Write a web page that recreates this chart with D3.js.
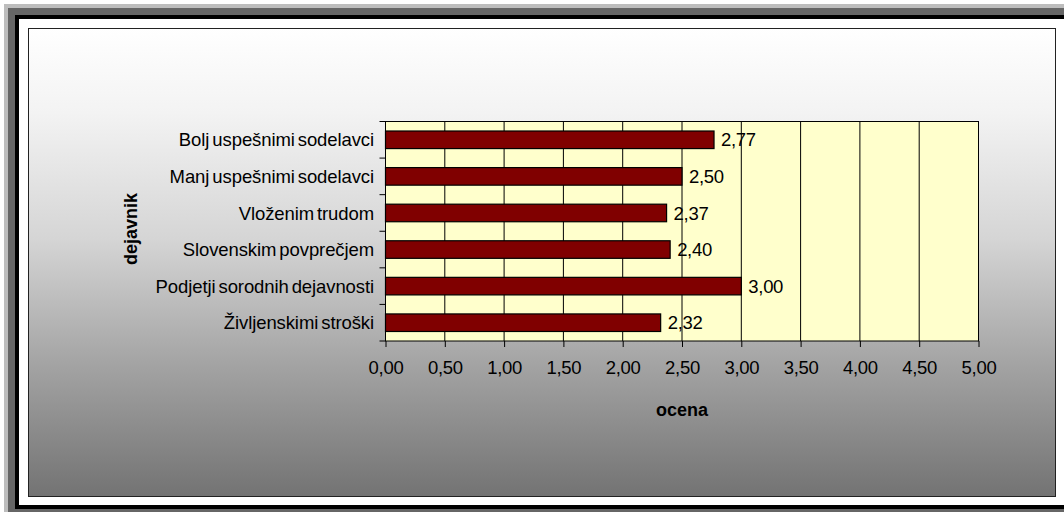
<!DOCTYPE html>
<html>
<head>
<meta charset="utf-8">
<script src="https://cdn.jsdelivr.net/npm/d3@7"></script>
<style>
  html, body { margin: 0; padding: 0; background: #fff; }
  svg { display: block; font-family: "Liberation Sans", Arial, sans-serif; }
</style>
</head>
<body>
<svg id="chart" width="1064" height="512"></svg>
<script>
// Factors (top to bottom) and their mean scores
const categories = [
  "Bolj uspešnimi sodelavci",
  "Manj uspešnimi sodelavci",
  "Vloženim trudom",
  "Slovenskim povprečjem",
  "Podjetji sorodnih dejavnosti",
  "Življenskimi stroški"
];
const scores = [2.77, 2.50, 2.37, 2.40, 3.00, 2.32];
const xTicks = [0, 0.5, 1, 1.5, 2, 2.5, 3, 3.5, 4, 4.5, 5];
const xTitle = "ocena";
const yTitle = "dejavnik";

const fmt = v => v.toFixed(2).replace(".", ",");
const labelFont = 18.5;

const svg = d3.select("#chart");

// Framed border around the page
svg.append("rect").attr("x", 4).attr("y", 4).attr("width", 1100).attr("height", 520).attr("fill", "#bdbdbd");
svg.append("rect").attr("x", 8).attr("y", 8).attr("width", 1100).attr("height", 520).attr("fill", "#666666");
svg.append("rect").attr("x", 15).attr("y", 15).attr("width", 1100).attr("height", 494).attr("fill", "#000");
svg.append("rect").attr("x", 19).attr("y", 19).attr("width", 1100).attr("height", 486).attr("fill", "#fff");

// Chart area with vertical grey gradient
const defs = svg.append("defs");
const grad = defs.append("linearGradient").attr("id", "bgGrad")
  .attr("x1", 0).attr("y1", 0).attr("x2", 0).attr("y2", 1);
[[0, "#ffffff"], [0.18, "#f3f3f3"], [0.45, "#d5d5d5"], [0.72, "#a3a3a3"], [1, "#737373"]]
  .forEach(([o, c]) => grad.append("stop").attr("offset", o).attr("stop-color", c));

svg.append("rect")
  .attr("x", 28.5).attr("y", 28.5).attr("width", 1027).attr("height", 468)
  .attr("fill", "url(#bgGrad)").attr("stroke", "#222").attr("stroke-width", 1);

// Plot area
const plot = { left: 385.5, right: 978.5, top: 121.5, bottom: 341 };

const x = d3.scaleLinear().domain([0, 5]).range([plot.left, plot.right]);
const y = d3.scaleBand().domain(categories).range([plot.top, plot.bottom])
  .paddingInner(0.52).paddingOuter(0.26);
const yBands = d3.scaleBand().domain(categories).range([plot.top, plot.bottom]).padding(0);

svg.append("rect")
  .attr("x", plot.left).attr("y", plot.top)
  .attr("width", plot.right - plot.left).attr("height", plot.bottom - plot.top)
  .attr("fill", "#ffffcc");

// Vertical gridlines
svg.append("g").selectAll("line")
  .data(xTicks.filter(t => t > 0 && t < 5))
  .join("line")
  .attr("x1", d => x(d)).attr("x2", d => x(d))
  .attr("y1", plot.top).attr("y2", plot.bottom)
  .attr("stroke", "#000").attr("stroke-width", 1);

svg.append("rect")
  .attr("x", plot.left).attr("y", plot.top)
  .attr("width", plot.right - plot.left).attr("height", plot.bottom - plot.top)
  .attr("fill", "none").attr("stroke", "#000").attr("stroke-width", 1);

// Bars
svg.append("g").selectAll("rect")
  .data(categories)
  .join("rect")
  .attr("x", x(0))
  .attr("y", d => y(d))
  .attr("width", (d, i) => x(scores[i]) - x(0))
  .attr("height", y.bandwidth())
  .attr("fill", "#800000")
  .attr("stroke", "#000").attr("stroke-width", 1.2);

// Value labels
svg.append("g").selectAll("text")
  .data(categories)
  .join("text")
  .attr("x", (d, i) => x(scores[i]) + 7)
  .attr("y", d => y(d) + y.bandwidth() / 2)
  .attr("dy", "0.36em")
  .attr("font-size", labelFont)
  .attr("letter-spacing", -0.3)
  .attr("fill", "#000")
  .text((d, i) => fmt(scores[i]));

// X axis
const xAxis = d3.axisBottom(x).tickValues(xTicks).tickFormat(fmt).tickSize(6).tickPadding(14);
const gx = svg.append("g").attr("transform", `translate(0,${plot.bottom})`).call(xAxis);
gx.select(".domain").remove();
gx.selectAll(".tick line").attr("stroke", "#000");
gx.selectAll(".tick text")
  .attr("font-size", labelFont)
  .attr("letter-spacing", -0.3)
  .attr("font-family", "Liberation Sans, Arial, sans-serif")
  .attr("fill", "#000");

// Y axis: ticks on band boundaries, labels centred on bands
const boundaries = categories.map(c => yBands(c)).concat([plot.bottom]);
svg.append("g").selectAll("line")
  .data(boundaries)
  .join("line")
  .attr("x1", plot.left - 6).attr("x2", plot.left)
  .attr("y1", d => d).attr("y2", d => d)
  .attr("stroke", "#000");

svg.append("g").selectAll("text")
  .data(categories)
  .join("text")
  .attr("x", 374)
  .attr("y", d => y(d) + y.bandwidth() / 2)
  .attr("dy", "0.36em")
  .attr("text-anchor", "end")
  .attr("font-size", labelFont)
  .attr("letter-spacing", -0.1)
  .attr("word-spacing", -2)
  .attr("fill", "#000")
  .text(d => d);

// Axis titles
svg.append("text")
  .attr("x", (plot.left + plot.right) / 2)
  .attr("y", 416)
  .attr("text-anchor", "middle")
  .attr("font-size", 18).attr("font-weight", "bold")
  .text(xTitle);

svg.append("text")
  .attr("transform", "translate(137,229) rotate(-90)")
  .attr("text-anchor", "middle")
  .attr("font-size", 18).attr("font-weight", "bold")
  .text(yTitle);
</script>
</body>
</html>
